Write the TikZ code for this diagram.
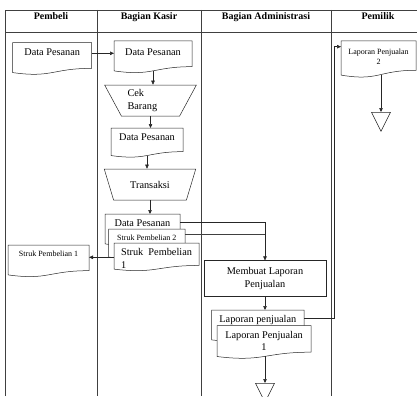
\documentclass[tikz,border=0pt]{standalone}
\usepackage{fontspec}
\setmainfont{Liberation Serif}
\usepackage{tikz}
\usetikzlibrary{shapes, arrows.meta, positioning, calc}

\newcommand{\bodytext}{\fontsize{10.3}{12.5}\selectfont}
\newcommand{\smalltext}{\fontsize{8}{10}\selectfont}

% flowchart document: straight top and sides, wavy bottom, text at the top
\makeatletter
\pgfdeclareshape{document}{
  \savedanchor\northeast{%
    \pgf@x=\wd\pgfnodeparttextbox
    \pgfmathsetlength\pgf@xc{\pgfkeysvalueof{/pgf/inner xsep}}%
    \advance\pgf@x by 2\pgf@xc
    \pgfmathsetlength\pgf@xb{\pgfkeysvalueof{/pgf/minimum width}}%
    \ifdim\pgf@x<\pgf@xb \pgf@x=\pgf@xb \fi
    \pgf@x=.5\pgf@x
    \advance\pgf@x by .5\wd\pgfnodeparttextbox
    \pgf@y=\ht\pgfnodeparttextbox
    \pgfmathsetlength\pgf@yc{\pgfkeysvalueof{/pgf/inner ysep}}%
    \advance\pgf@y by \pgf@yc
  }
  \savedanchor\southwest{%
    \pgf@x=\wd\pgfnodeparttextbox
    \pgfmathsetlength\pgf@xc{\pgfkeysvalueof{/pgf/inner xsep}}%
    \advance\pgf@x by 2\pgf@xc
    \pgfmathsetlength\pgf@xb{\pgfkeysvalueof{/pgf/minimum width}}%
    \ifdim\pgf@x<\pgf@xb \pgf@x=\pgf@xb \fi
    \pgf@x=-.5\pgf@x
    \advance\pgf@x by .5\wd\pgfnodeparttextbox
    \pgf@y=\ht\pgfnodeparttextbox
    \pgfmathsetlength\pgf@yc{\pgfkeysvalueof{/pgf/inner ysep}}%
    \advance\pgf@y by \pgf@yc
    \pgfmathsetlength\pgf@yb{\pgfkeysvalueof{/pgf/minimum height}}%
    \advance\pgf@y by -\pgf@yb
  }
  \inheritanchorborder[from=rectangle]
  \inheritanchor[from=rectangle]{center}
  \inheritanchor[from=rectangle]{north}
  \inheritanchor[from=rectangle]{east}
  \inheritanchor[from=rectangle]{west}
  \inheritanchor[from=rectangle]{north east}
  \inheritanchor[from=rectangle]{north west}
  \inheritanchor[from=rectangle]{south east}
  \inheritanchor[from=rectangle]{south west}
  \anchor{text}{\pgfpointorigin}
  \anchor{south}{%
    \southwest \pgf@xa=\pgf@x \pgf@ya=\pgf@y
    \northeast
    \pgf@x=.5\pgf@x \advance\pgf@x by .5\pgf@xa
    \pgf@yb=\pgf@y \advance\pgf@yb by -\pgf@ya
    \pgf@y=\pgf@ya \advance\pgf@y by .067\pgf@yb
  }
  \backgroundpath{%
    \southwest \pgf@xa=\pgf@x \pgf@ya=\pgf@y
    \northeast \pgf@xb=\pgf@x \pgf@yb=\pgf@y
    \pgf@yc=\pgf@yb \advance\pgf@yc by -\pgf@ya
    \pgf@xc=.5\pgf@xa \advance\pgf@xc by .5\pgf@xb
    \edef\doc@l{\the\pgf@xa}\edef\doc@r{\the\pgf@xb}%
    \edef\doc@t{\the\pgf@yb}\edef\doc@m{\the\pgf@xc}%
    \pgfutil@tempdima=\pgf@yb \advance\pgfutil@tempdima by -.802\pgf@yc
    \edef\doc@yr{\the\pgfutil@tempdima}%
    \pgfutil@tempdima=\pgf@yb \advance\pgfutil@tempdima by -.934\pgf@yc
    \edef\doc@yl{\the\pgfutil@tempdima}%
    \pgfutil@tempdima=\pgf@yb \advance\pgfutil@tempdima by -1.108\pgf@yc
    \edef\doc@yc{\the\pgfutil@tempdima}%
    \pgfpathmoveto{\pgfqpoint{\doc@l}{\doc@t}}%
    \pgfpathlineto{\pgfqpoint{\doc@r}{\doc@t}}%
    \pgfpathlineto{\pgfqpoint{\doc@r}{\doc@yr}}%
    \pgfpathcurveto{\pgfqpoint{\doc@m}{\doc@yr}}{\pgfqpoint{\doc@m}{\doc@yc}}{\pgfqpoint{\doc@l}{\doc@yl}}%
    \pgfpathclose
  }
}
\makeatother

\begin{document}
\begin{tikzpicture}[
    x=1pt, y=-1pt,
    lanes/.style={draw=black!75, line width=0.5pt},
    lane/.style={font=\bfseries\fontsize{10}{12}\selectfont, anchor=base, inner sep=0pt},
    doc/.style={document, draw=black!85, fill=white, line width=0.5pt, anchor=north west, inner xsep=2pt, inner ysep=5.5pt, align=center, font=\bodytext},
    io/.style={trapezium, trapezium angle=60, shape border rotate=180, trapezium stretches=true, draw=black!85, fill=white, line width=0.5pt, minimum width=92pt, minimum height=31pt, inner sep=1pt, font=\bodytext},
    proc/.style={rectangle, draw=black!85, fill=white, line width=0.5pt, minimum width=122pt, minimum height=36pt, align=center, font=\bodytext},
    stop/.style={isosceles triangle, isosceles triangle stretches, shape border rotate=-90, draw=black!85, line width=0.5pt, minimum width=19pt, minimum height=19pt, inner sep=0pt, anchor=lower side},
    arr/.style={draw=black!85, line width=0.5pt, -{Triangle[length=4pt, width=3.5pt]}},
]
    \useasboundingbox (0,0) rectangle (417,396);
    \clip (0,0) rectangle (417,396);

    % Swimlanes
    \draw[lanes] (5,396) -- (5,10) -- (417,10);
    \draw[lanes] (5,32) -- (417,32);
    \foreach \x in {97,201,331}
        \draw[lanes] (\x,10) -- (\x,396);

    \node[lane] (hPembeli) at (51,19.5) {Pembeli};
    \node[lane] (hKasir) at (149,19.5) {Bagian Kasir};
    \node[lane] (hAdmin) at (266,19.5) {Bagian Administrasi};
    \node[lane] (hPemilik) at (378,19.5) {Pemilik};

    % Pembeli
    \node[doc, minimum width=79pt, minimum height=32pt, inner ysep=6.5pt] (pDP) at (12.7,42.7) {Data Pesanan};
    \node[doc, minimum width=81pt, minimum height=32pt, font=\smalltext] (pStruk) at (8,245) {Struk Pembelian 1};

    % Bagian Kasir
    \node[doc, minimum width=78pt, minimum height=32pt, inner ysep=7.5pt] (kDP1) at (114,41) {Data Pesanan};
    \node[io, text width=46pt, align=left] (cek) at (150.5,100.5) {Cek\\Barang};
    \node[doc, minimum width=72pt, minimum height=29.5pt] (kDP2) at (111,128) {Data Pesanan};
    \node[io] (trans) at (150,184.5) {Transaksi};
    \node[doc, minimum width=75pt, minimum height=32pt] (kDP3) at (105,214) {Data Pesanan};
    \node[doc, minimum width=76.5pt, minimum height=30pt, font=\smalltext] (kStruk2) at (108.5,229) {Struk Pembelian 2};
    \node[doc, minimum width=85pt, minimum height=28pt, align=left] (kStruk1) at (114,243) {Struk\ \ Pembelian\\1};

    % Bagian Administrasi
    \node[proc] (lapor) at (265,278.7) {Membuat Laporan\\Penjualan};
    \node[doc, minimum width=92.3pt, minimum height=32pt] (aLP) at (211.7,310) {Laporan penjualan};
    \node[doc, minimum width=94pt, minimum height=33pt] (aLP1) at (217,325.7) {Laporan Penjualan\\1};
    \node[stop] (aEnd) at (265,383) {};

    % Pemilik
    \node[doc, minimum width=75pt, minimum height=36.5pt, inner ysep=8pt, font=\smalltext] (oLP2) at (341,41) {Laporan Penjualan\\2};
    \node[stop] (oEnd) at (381,112) {};

    % Connectors
    \draw[arr] ([yshift=-10.6pt]pDP.north east) -- ([yshift=-12.3pt]kDP1.north west);
    \draw[arr] (kDP1.south) -- (kDP1.south |- cek.north);
    \draw[arr] (cek.south) -- (cek.south |- kDP2.north);
    \draw[arr] (kDP2.south) -- (kDP2.south |- trans.north);
    \draw[arr] (trans.south) -- (trans.south |- kDP3.north);

    \coordinate (dpOut) at ([yshift=-8.7pt]kDP3.north east);
    \coordinate (s2Out) at ([yshift=-5.5pt]kStruk2.north east);
    \coordinate (s1Out) at ([yshift=-14.3pt]kStruk1.north west);
    \draw[arr] (dpOut) -| (lapor.north);
    \draw[lanes] (s2Out) -- (s2Out -| lapor.north);
    \draw[arr] (s1Out) -- (s1Out -| pStruk.east);

    \draw[arr] (lapor.south) -- (lapor.south |- aLP.north);
    \draw[arr] (aEnd.lower side |- aLP1.south) -- (aEnd.lower side);

    \coordinate (lpOut) at ([yshift=-8pt]aLP.north east);
    \coordinate (lpIn) at ([yshift=-5.7pt]oLP2.north west);
    \draw[arr] (lpOut) -| ([xshift=-6.5pt]lpIn) -- (lpIn);
    \draw[arr] (oEnd.lower side |- oLP2.south) -- (oEnd.lower side);

\end{tikzpicture}
\end{document}
